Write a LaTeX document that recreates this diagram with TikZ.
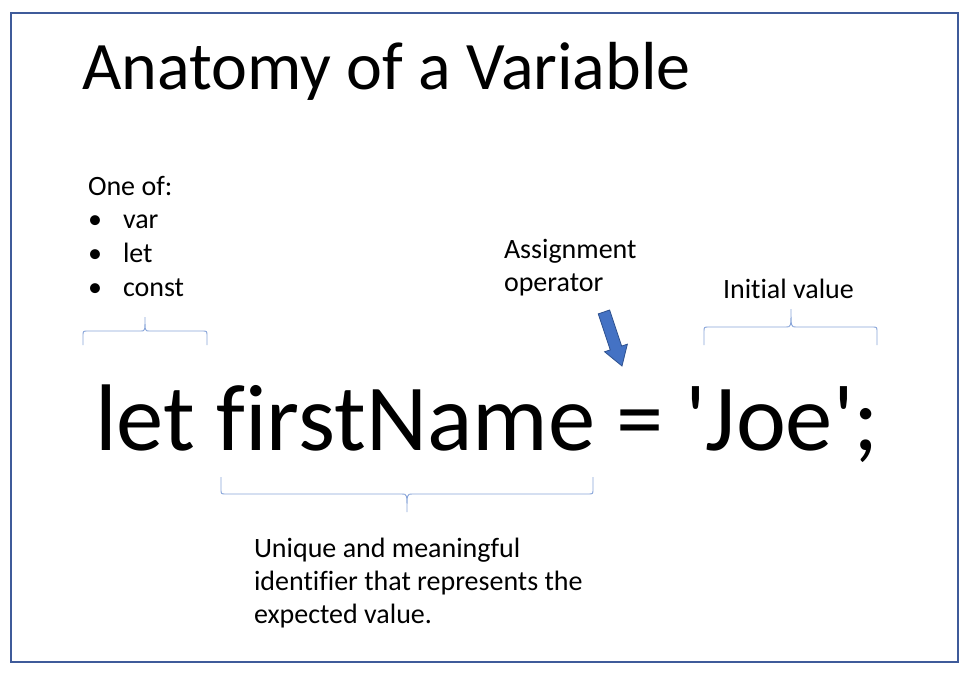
\documentclass[tikz,border=0pt]{standalone}
\usepackage{fontspec}
\setmainfont{Carlito}[Ligatures=NoCommon]
\newfontfamily\codefont{Carlito}[Ligatures={TeXOff,NoCommon}]
\usetikzlibrary{calc}
\definecolor{frameblue}{HTML}{3F5B9A}
\definecolor{bracecol}{HTML}{8AA6DA}
\definecolor{arrowfill}{HTML}{4472C4}
\definecolor{arrowline}{HTML}{2F528F}
\tikzset{
  lbl/.style={inner sep=0pt, outer sep=0pt, anchor=base west, font=\fontsize{28}{33.5}\selectfont},
  bracepath/.style={draw=bracecol, line width=0.9pt},
}
\begin{document}
\begin{tikzpicture}[x=1pt,y=-1pt]
\useasboundingbox (0,0) rectangle (972,674);
\fill[white] (0,0) rectangle (972,674);
\draw[frameblue, line width=1.5pt] (11,13) rectangle (958,662);

\node[inner sep=0pt, anchor=base west, font=\fontsize{68}{76}\selectfont] (title) at (82,90) {Anatomy of a Variable};

\node[lbl] (oneof) at (88,195) {One of:};
\node[lbl] (b1) at (88,228) {•};
\node[lbl] (v1) at (123,228) {var};
\node[lbl] (b2) at (88,262) {•};
\node[lbl] (v2) at (123,262) {let};
\node[lbl] (b3) at (88,296) {•};
\node[lbl] (v3) at (123,296) {const};

\node[lbl] (assign1) at (504,258) {Assignment};
\node[lbl] (assign2) at (504,291) {operator};
\node[lbl] (init) at (723,298) {Initial value};
\node[lbl] (uniq1) at (254,557) {Unique and meaningful};
\node[lbl] (uniq2) at (254,590) {identifier that represents the};
\node[lbl] (uniq3) at (254,623) {expected value.};

\node[inner sep=0pt, anchor=base west, font=\codefont\fontsize{94.6}{100}\selectfont] (code) at (95,450) {let firstName = 'Joe';};

% braces
\draw[bracepath] (83,345) -- (83,336) .. controls (83,331) .. (88,331) -- (141,331) .. controls (145,331) .. (145,317) .. controls (145,331) .. (149,331) -- (202,331) .. controls (207,331) .. (207,336) -- (207,345);
\draw[bracepath] (704,345) -- (704,332) .. controls (704,327) .. (709,327) -- (786,327) .. controls (791,327) .. (791,309) .. controls (791,327) .. (796,327) -- (872,327) .. controls (877,327) .. (877,332) -- (877,345);
\draw[bracepath] (221,477) -- (221,489) .. controls (221,494) .. (226,494) -- (402,494) .. controls (407,494) .. (407,512) .. controls (407,494) .. (412,494) -- (588,494) .. controls (593,494) .. (593,489) -- (593,477);

% block arrow
\begin{scope}[shift={(622,366)}, rotate=18.5]
\draw[fill=arrowfill, draw=arrowline, line width=0.8pt]
 (0,0) -- (-12,-19) -- (-6,-19) -- (-6,-57) -- (6,-57) -- (6,-19) -- (12,-19) -- cycle;
\end{scope}
\end{tikzpicture}
\end{document}
